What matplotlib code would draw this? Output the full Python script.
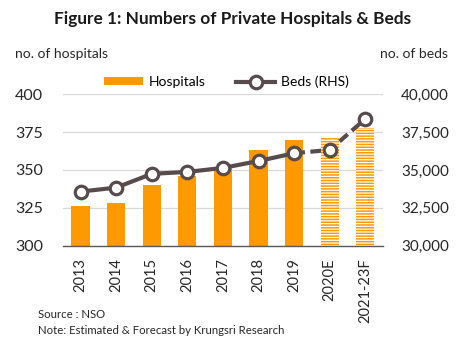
import numpy as np
import matplotlib.pyplot as plt
from matplotlib.patches import Patch
from matplotlib.lines import Line2D

plt.rcParams['font.family'] = ['Lato', 'DejaVu Sans']
plt.rcParams['hatch.linewidth'] = 0.9

# Данные
years = ['2013', '2014', '2015', '2016', '2017', '2018', '2019', '2020E', '2021-23F']
hospitals = [326, 328, 340, 346, 351, 363, 370, 371, 378]
beds = [33570, 33830, 34740, 34870, 35130, 35590, 36100, 36320, 38370]
n_actual = 7  # фактические данные до 2019

orange = '#ff9900'
line_col = '#574b4b'

fig = plt.figure(figsize=(4.65, 3.45), dpi=100)
ax = fig.add_axes([0.135, 0.288, 0.689, 0.439])
x = np.arange(len(years))

# Столбцы: фактические и прогнозные (со штриховкой)
ax.bar(x[:n_actual], hospitals[:n_actual], width=0.51, color=orange, zorder=2)
ax.bar(x[n_actual:], hospitals[n_actual:], width=0.51, color=orange,
       edgecolor='white', linewidth=0, hatch='------', zorder=2)

ax.set_ylim(300, 400)
ax.set_xlim(-0.5, 8.5)
ax.set_yticks([300, 325, 350, 375, 400])
ax.grid(axis='y', color='#d9d9d9', linewidth=0.9, zorder=0)
for s in ['top', 'left', 'right']:
    ax.spines[s].set_visible(False)
ax.spines['bottom'].set_color('#595959')
ax.spines['bottom'].set_linewidth(1.0)
ax.spines['bottom'].set_zorder(3)
ax.set_xticks(x)
ax.set_xticklabels(years, rotation=90, fontsize=10.5, color='#262626')
ax.tick_params(axis='y', length=0, pad=14, labelsize=11.5, labelcolor='#262626')
ax.tick_params(axis='x', length=0, pad=9)

# Правая ось: койки
ax2 = ax.twinx()
ax2.set_ylim(30000, 40000)
ax2.set_yticks([30000, 32500, 35000, 37500, 40000])
ax2.set_yticklabels([f'{v:,}' for v in [30000, 32500, 35000, 37500, 40000]])
for s in ['top', 'left', 'right', 'bottom']:
    ax2.spines[s].set_visible(False)
ax2.tick_params(axis='y', length=0, pad=13, labelsize=11, labelcolor='#262626')

mk = dict(marker='o', markersize=9, markerfacecolor='white',
          markeredgecolor=line_col, markeredgewidth=2.3)
ax2.plot(x[:n_actual], beds[:n_actual], color=line_col, linewidth=3, zorder=4, **mk)
ax2.plot(x[n_actual - 1:], beds[n_actual - 1:], color=line_col, linewidth=3,
         linestyle=(0, (2.6, 1.3)), zorder=3)
ax2.plot(x[n_actual:], beds[n_actual:], color=line_col, linewidth=0, zorder=4, **mk)

# Подписи
fig.text(0.5, 0.945, 'Figure 1: Numbers of Private Hospitals & Beds',
         ha='center', va='center', fontsize=12.4, fontweight='bold', color='#1a1a1a')
fig.text(0.032, 0.843, 'no. of hospitals', ha='left', va='center', fontsize=10, color='#262626')
fig.text(0.963, 0.843, 'no. of beds', ha='right', va='center', fontsize=10, color='#262626')
fig.text(0.082, 0.087, 'Source : NSO', ha='left', va='center', fontsize=8.2, color='#262626')
fig.text(0.082, 0.043, 'Note: Estimated & Forecast by Krungsri Research', ha='left',
         va='center', fontsize=8.2, color='#262626')

handles = [Patch(facecolor=orange, label='Hospitals'),
           Line2D([0], [0], color=line_col, linewidth=3, label='Beds (RHS)', **mk)]
fig.legend(handles=handles, loc='center', bbox_to_anchor=(0.487, 0.762), ncol=2,
           frameon=False, fontsize=10, handlelength=2.8, handleheight=0.5,
           columnspacing=2.2, handletextpad=0.4)

plt.savefig('out.png', dpi=100)
